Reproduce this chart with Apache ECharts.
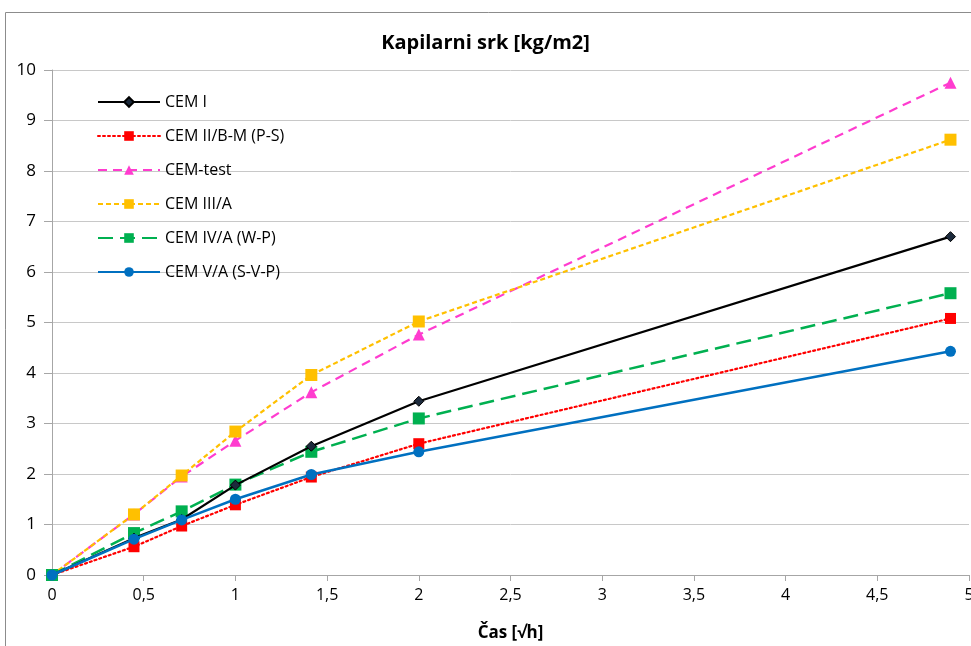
<!DOCTYPE html>
<html>
<head>
    <meta charset="utf-8">
    <style>
        html, body { margin: 0; padding: 0; width: 100%; height: 100%; background: #fff; }
        #chart-panel { width: 971px; height: 646px; }
    </style>
</head>
<body>
    <div id="chart-panel"></div>
    <script type="text/javascript" src="https://cdn.jsdelivr.net/npm/echarts@6/dist/echarts.min.js"></script>
    <script type="text/javascript">
        // cas [sqrt(h)]
        var casX = [0, 0.447, 0.707, 1, 1.414, 2, 4.899];

        var cemI = [0, 0.73, 1.1, 1.78, 2.55, 3.44, 6.7];
        var cemII = [0, 0.56, 0.97, 1.39, 1.94, 2.6, 5.08];
        var cemTest = [0, 1.2, 1.95, 2.66, 3.62, 4.76, 9.75];
        var cemIII = [0, 1.2, 1.97, 2.84, 3.96, 5.02, 8.62];
        var cemIV = [0, 0.83, 1.26, 1.79, 2.44, 3.1, 5.58];
        var cemV = [0, 0.71, 1.09, 1.5, 1.99, 2.44, 4.43];

        var seriesNames = ['CEM I', 'CEM II/B-M (P-S)', 'CEM-test', 'CEM III/A', 'CEM IV/A (W-P)', 'CEM V/A (S-V-P)'];

        function pairs(ys) {
            return casX.map(function (x, i) { return [x, ys[i]]; });
        }

        var font = "'Open Sans', 'Noto Sans', sans-serif";

        var myChart = echarts.init(document.getElementById('chart-panel'));
        var option = {
            animation: false,
            textStyle: { fontFamily: font },
            graphic: [{
                type: 'rect',
                shape: { x: 5.5, y: 12.5, width: 1000, height: 700 },
                style: { fill: 'none', stroke: '#8c8c8c', lineWidth: 1 },
                silent: true
            }],
            title: {
                text: 'Kapilarni srk [kg/m2]',
                left: 'center',
                top: 28,
                textStyle: { fontSize: 20, fontWeight: 'bold', color: '#000', fontFamily: font }
            },
            legend: {
                orient: 'vertical',
                left: 92,
                top: 89,
                itemWidth: 62,
                itemHeight: 12,
                itemGap: 18,
                textStyle: { fontSize: 16, color: '#000', fontFamily: font },
                data: seriesNames
            },
            grid: { left: 52, right: 2, top: 70, bottom: 71, containLabel: false, outerBoundsMode: 'none' },
            xAxis: {
                type: 'value',
                min: 0,
                max: 5,
                interval: 0.5,
                name: 'Čas [√h]',
                nameLocation: 'middle',
                nameGap: 50,
                nameTextStyle: { fontSize: 17, fontWeight: 'bold', color: '#000' },
                axisLine: { lineStyle: { color: '#a6a6a6' } },
                axisTick: { show: true, length: 6, lineStyle: { color: '#a6a6a6' } },
                axisLabel: {
                    fontSize: 16, color: '#000', margin: 12,
                    formatter: function (v) { return String(v).replace('.', ','); }
                },
                splitLine: { show: false }
            },
            yAxis: {
                type: 'value',
                min: 0,
                max: 10,
                interval: 1,
                axisLine: { show: true, lineStyle: { color: '#a6a6a6' } },
                axisTick: { show: true, length: 8, lineStyle: { color: '#a6a6a6' } },
                axisLabel: { fontSize: 17, color: '#000', margin: 16 },
                splitLine: { lineStyle: { color: '#c8c8c8' } }
            },
            series: [
                {
                    name: seriesNames[0], type: 'line', data: pairs(cemI),
                    symbol: 'diamond', symbolSize: 10,
                    lineStyle: { color: '#000', width: 2.2 },
                    itemStyle: { color: '#1c2a3c', borderColor: '#000', borderWidth: 1 },
                    z: 6
                },
                {
                    name: seriesNames[1], type: 'line', data: pairs(cemII),
                    symbol: 'rect', symbolSize: 11,
                    lineStyle: { color: '#ff0000', width: 2.2, type: [2, 3], cap: 'round' },
                    itemStyle: { color: '#ff0000' },
                    z: 2
                },
                {
                    name: seriesNames[2], type: 'line', data: pairs(cemTest),
                    symbol: 'triangle', symbolSize: 12,
                    lineStyle: { color: '#ff3ccf', width: 2.2, type: [9, 6] },
                    itemStyle: { color: '#ff3ccf' },
                    z: 3
                },
                {
                    name: seriesNames[3], type: 'line', data: pairs(cemIII),
                    symbol: 'rect', symbolSize: 12,
                    lineStyle: { color: '#ffc000', width: 2.2, type: [5, 3] },
                    itemStyle: { color: '#ffc000' },
                    z: 4
                },
                {
                    name: seriesNames[4], type: 'line', data: pairs(cemIV),
                    symbol: 'rect', symbolSize: 12,
                    lineStyle: { color: '#00b050', width: 2.5, type: [15, 7] },
                    itemStyle: { color: '#00b050' },
                    z: 5
                },
                {
                    name: seriesNames[5], type: 'line', data: pairs(cemV),
                    symbol: 'circle', symbolSize: 11,
                    lineStyle: { color: '#0070c0', width: 2.5 },
                    itemStyle: { color: '#0070c0' },
                    z: 7
                }
            ]
        };
        myChart.setOption(option);
    </script>
</body>
</html>
